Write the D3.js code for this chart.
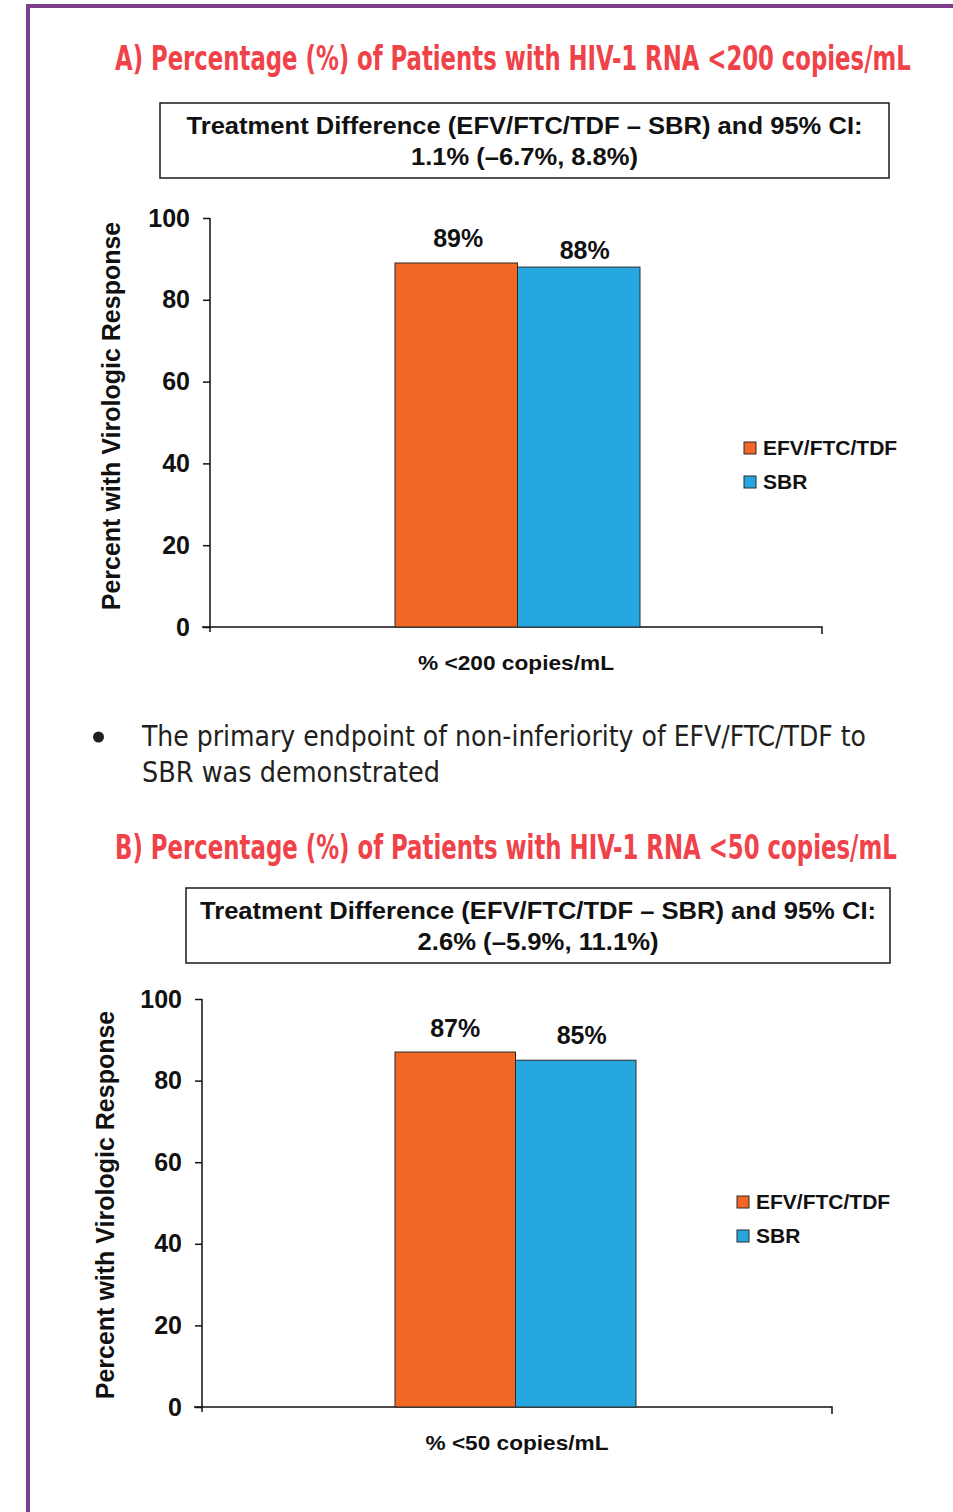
<!DOCTYPE html>
<html>
<head>
<meta charset="utf-8">
<script src="https://cdn.jsdelivr.net/npm/d3@7"></script>
<style>
  html, body { margin: 0; padding: 0; background: #fff; }
  svg { display: block; }
  .cond { font-family: "Liberation Sans Narrow", "DejaVu Sans Condensed", "Roboto", "Liberation Sans", sans-serif; font-stretch: condensed; }
  .bold { font-family: "Liberation Sans", Arial, "DejaVu Sans", sans-serif; font-weight: bold; }
</style>
</head>
<body>
<svg id="chart" width="953" height="1512"></svg>
<script>
// Treatment arms (legend order)
const series = ["EFV/FTC/TDF", "SBR"];
const seriesColors = ["#f26724", "#27a7df"];

// Panel A: HIV-1 RNA < 200 copies/mL
const titleA = "A) Percentage (%) of Patients with HIV-1 RNA <200 copies/mL";
const categoryA = ["% <200 copies/mL"];
const valuesA = [89, 88];
const diffA = ["Treatment Difference (EFV/FTC/TDF \u2013 SBR) and 95% CI:", "1.1% (\u20136.7%, 8.8%)"];

// Panel B: HIV-1 RNA < 50 copies/mL
const titleB = "B) Percentage (%) of Patients with HIV-1 RNA <50 copies/mL";
const categoryB = ["% <50 copies/mL"];
const valuesB = [87, 85];
const diffB = ["Treatment Difference (EFV/FTC/TDF \u2013 SBR) and 95% CI:", "2.6% (\u20135.9%, 11.1%)"];

const yTicks = [0, 20, 40, 60, 80, 100];
const yTitle = "Percent with Virologic Response";
const bulletLines = ["The primary endpoint of non-inferiority of EFV/FTC/TDF to", "SBR was demonstrated"];

const svg = d3.select("#chart");

// Page frame: purple rule along the top and left edges
svg.append("rect").attr("x", 26).attr("y", 4).attr("width", 927).attr("height", 4).attr("fill", "#7b3f8c");
svg.append("rect").attr("x", 26).attr("y", 4).attr("width", 4).attr("height", 1508).attr("fill", "#7b3f8c");

// Draws a line of text squeezed horizontally to a given width
function fittedText(parent, cls, x, y, width, size, fill, str) {
  const t = parent.append("text").attr("class", cls)
    .attr("x", 0).attr("y", 0)
    .attr("font-size", size).attr("font-weight", "bold").attr("fill", fill)
    .text(str);
  const natural = t.node().getComputedTextLength() || width;
  t.attr("transform", `translate(${x},${y}) scale(${width / natural},1)`);
  return t;
}

function drawPanel(p) {
  const g = svg.append("g");

  // Panel heading
  fittedText(g, "cond", p.titleX, p.titleY, p.titleW, 33, "#ef4249", p.title);

  // Treatment difference box
  g.append("rect")
    .attr("x", p.box[0]).attr("y", p.box[1]).attr("width", p.box[2]).attr("height", p.box[3])
    .attr("fill", "#fff").attr("stroke", "#1a1a1a").attr("stroke-width", 1.5);
  p.diff.forEach((line, i) => {
    g.append("text").attr("class", "bold")
      .attr("x", p.box[0] + p.box[2] / 2).attr("y", p.box[1] + 31 + i * 31)
      .attr("text-anchor", "middle").attr("font-size", 24).attr("fill", "#111")
      .attr("textLength", p.diffW[i]).attr("lengthAdjust", "spacingAndGlyphs")
      .text(line);
  });

  // Scales
  const y = d3.scaleLinear().domain([0, 100]).range([p.y0, p.y100]);
  const x = d3.scaleBand().domain(p.category).range([p.axisLeft, p.axisRight]).paddingInner(0).paddingOuter(0);
  const xs = d3.scaleBand().domain(series).range(p.groupRange).padding(0);

  // Y axis
  const yAxis = g.append("g").attr("transform", `translate(${p.axisLeft},0)`)
    .call(d3.axisLeft(y).tickValues(yTicks).tickSize(7).tickPadding(13).tickSizeOuter(0));
  yAxis.select(".domain").attr("stroke", "#111").attr("stroke-width", 1.5)
    .attr("d", `M0,${p.y100}V${p.y0 + 5}`);
  yAxis.selectAll(".tick line").attr("stroke", "#111").attr("stroke-width", 1.5);
  yAxis.selectAll(".tick text").attr("class", "bold").attr("font-size", 25).attr("fill", "#111");

  // X axis baseline with end tick
  const xAxis = g.append("g").attr("transform", `translate(0,${p.y0})`)
    .call(d3.axisBottom(x).tickValues([]).tickSizeOuter(7));
  xAxis.select(".domain").attr("stroke", "#111").attr("stroke-width", 1.5)
    .attr("d", `M${p.axisLeft - 8},0H${p.axisRight}V7`);

  // Bars
  g.selectAll(".bar").data(p.values).enter().append("rect")
    .attr("x", (d, i) => xs(series[i]))
    .attr("y", d => y(d))
    .attr("width", xs.bandwidth())
    .attr("height", d => y(0) - y(d))
    .attr("fill", (d, i) => seriesColors[i])
    .attr("stroke", "#2b2b2b").attr("stroke-width", 1);

  // Value labels
  g.selectAll(".val").data(p.values).enter().append("text").attr("class", "bold")
    .attr("x", (d, i) => xs(series[i]) + xs.bandwidth() / 2 + p.labelShift[i])
    .attr("y", (d, i) => y(d) - p.labelGap[i])
    .attr("text-anchor", "middle").attr("font-size", 25).attr("fill", "#111")
    .text(d => d + "%");

  // Category label
  g.append("text").attr("class", "bold")
    .attr("x", p.catX).attr("y", p.y0 + 43)
    .attr("text-anchor", "middle").attr("font-size", 21).attr("fill", "#111")
    .attr("textLength", p.catW).attr("lengthAdjust", "spacingAndGlyphs")
    .text(p.category[0]);

  // Y axis title
  g.append("text").attr("class", "bold")
    .attr("transform", `translate(${p.yTitleX},${p.yTitleY}) rotate(-90)`)
    .attr("text-anchor", "middle").attr("font-size", 25).attr("fill", "#111")
    .text(yTitle);

  // Legend
  series.forEach((s, i) => {
    const ly = p.legend[1] + i * 34;
    g.append("rect").attr("x", p.legend[0]).attr("y", ly).attr("width", 12).attr("height", 12)
      .attr("fill", seriesColors[i]).attr("stroke", "#2b2b2b").attr("stroke-width", 1);
    g.append("text").attr("class", "bold")
      .attr("x", p.legend[0] + 19).attr("y", ly + 13)
      .attr("font-size", 21).attr("fill", "#111")
      .text(s);
  });
}

drawPanel({
  title: titleA, titleX: 115, titleY: 70, titleW: 796,
  diff: diffA, diffW: [676, 227], box: [160, 103, 729, 75],
  category: categoryA, values: valuesA,
  axisLeft: 210, axisRight: 822, y0: 627, y100: 218,
  groupRange: [395, 640], labelShift: [2, 6], labelGap: [16, 8],
  catX: 516, catW: 196, yTitleX: 120, yTitleY: 416,
  legend: [744, 442]
});

drawPanel({
  title: titleB, titleX: 115, titleY: 859, titleW: 782,
  diff: diffB, diffW: [676, 241], box: [186, 888, 704, 75],
  category: categoryB, values: valuesB,
  axisLeft: 202, axisRight: 832, y0: 1407, y100: 999,
  groupRange: [395, 636], labelShift: [0, 6], labelGap: [15, 16],
  catX: 517, catW: 183, yTitleX: 114, yTitleY: 1205,
  legend: [737, 1196]
});

// Bullet note between the panels
svg.append("circle").attr("cx", 98.5).attr("cy", 737).attr("r", 5.5).attr("fill", "#231f20");
bulletLines.forEach((line, i) => {
  svg.append("text").attr("class", "cond")
    .attr("x", 142).attr("y", 746 + i * 36)
    .attr("font-size", 29).attr("fill", "#231f20")
    .attr("textLength", i === 0 ? 724 : 298).attr("lengthAdjust", "spacingAndGlyphs")
    .text(line);
});
</script>
</body>
</html>
